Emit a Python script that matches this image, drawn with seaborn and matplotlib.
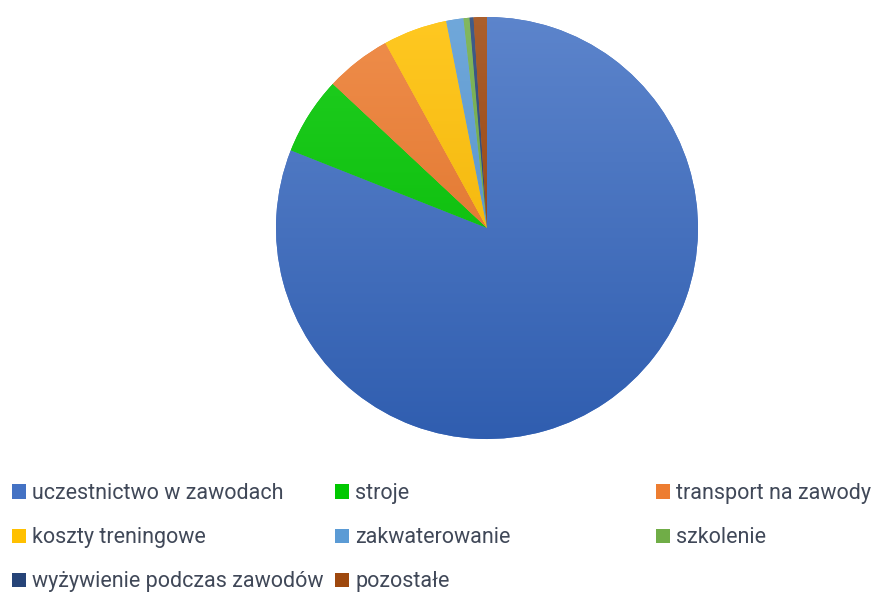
import numpy as np
import matplotlib.pyplot as plt
import matplotlib.colors as mcolors
import seaborn as sns

kategorie = ['uczestnictwo w zawodach', 'stroje', 'transport na zawody',
             'koszty treningowe', 'zakwaterowanie', 'szkolenie',
             'wyżywienie podczas zawodów', 'pozostałe']
udzialy = [81.0, 5.96, 5.04, 4.90, 1.32, 0.46, 0.30, 1.02]
kolory = ['#4472C4', '#00C800', '#ED7D31', '#FFC000',
          '#5B9BD5', '#70AD47', '#264478', '#9E480E']

sns.set_theme(style='white')
plt.rcParams['font.family'] = ['Roboto', 'DejaVu Sans']

fig = plt.figure(figsize=(8.79, 5.93), dpi=100)
ax = fig.add_axes([276/879, 1 - 439/593, 422/879, 422/593])

wedges, _ = ax.pie(udzialy, colors=kolory, startangle=90, counterclock=False,
                   wedgeprops=dict(linewidth=0))

# lekki gradient jak w Excelu
grad = np.linspace(0, 1, 256).reshape(-1, 1)
for w, c in zip(wedges, kolory):
    rgb = np.array(mcolors.to_rgb(c))
    top = rgb + (1 - rgb) * 0.13
    bottom = np.clip(rgb - 0.08, 0, 1)
    cmap = mcolors.LinearSegmentedColormap.from_list('g', [top, bottom])
    im = ax.imshow(grad, cmap=cmap, extent=(-1, 1, -1, 1), origin='upper',
                   aspect='auto', zorder=w.get_zorder() + 0.1)
    im.set_clip_path(w)

ax.set_xlim(-1, 1)
ax.set_ylim(-1, 1)
ax.set_aspect('equal')
ax.axis('off')

# legenda w trzech kolumnach, kolejnosc wierszami
kolumny = [[0, 3, 6], [1, 4, 7], [2, 5]]
x_kol = [12, 335, 656]
for idx, x in zip(kolumny, x_kol):
    fig.legend([wedges[i] for i in idx], [kategorie[i] for i in idx],
               loc='upper left', bbox_to_anchor=(x / 879, 1 - 483 / 593),
               frameon=False, fontsize=15.5, labelcolor='#404858',
               handlelength=0.65, handleheight=0.65, handletextpad=0.3,
               labelspacing=1.08, borderpad=0, borderaxespad=0)

fig.savefig('out.png', dpi=100)
